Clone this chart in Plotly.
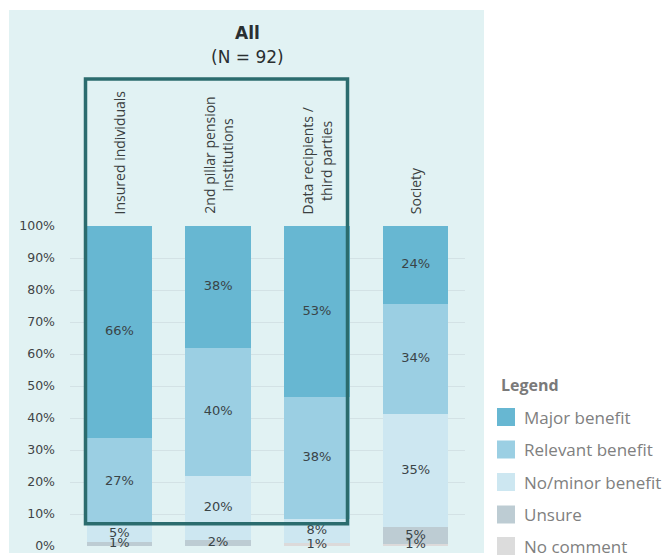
import plotly.graph_objects as go

# ---- data ----
categories = ["Insured individuals", "2nd pillar pension institutions",
              "Data recipients / third parties", "Society"]
category_labels = ["Insured individuals", "2nd pillar pension<br>institutions",
                   "Data recipients /<br>third parties", "Society"]
series_names = ["Major benefit", "Relevant benefit", "No/minor benefit", "Unsure", "No comment"]
major_benefit = [66.3, 38.0, 53.4, 24.4]
relevant_benefit = [27.2, 40.0, 38.1, 34.4]
no_minor_benefit = [5.4, 20.0, 7.7, 35.4]
unsure = [1.1, 2.0, 0.0, 5.2]
no_comment = [0.0, 0.0, 0.8, 0.6]
y_ticks = [0, 10, 20, 30, 40, 50, 60, 70, 80, 90, 100]
y_tick_labels = [f"{v}%" for v in y_ticks]
title_main = "All"
title_sub = "(N = 92)"

colors = {
    "Major benefit": "#67b7d2",
    "Relevant benefit": "#9bcfe3",
    "No/minor benefit": "#cde7f1",
    "Unsure": "#bdccd3",
    "No comment": "#dcdada",
}
legend_colors = {
    "Major benefit": "#67b7d2",
    "Relevant benefit": "#9bcfe3",
    "No/minor benefit": "#cde7f1",
    "Unsure": "#bdccd3",
    "No comment": "#dcdcdc",
}
values = {
    "Major benefit": major_benefit,
    "Relevant benefit": relevant_benefit,
    "No/minor benefit": no_minor_benefit,
    "Unsure": unsure,
    "No comment": no_comment,
}

WORD_FONT = "'Open Sans', sans-serif"
NUM_FONT = "'DejaVu Sans', sans-serif"
TXT = "#3a4447"

# pixel geometry helpers (plot area: x 70..465, y 226..546)
L, R, T, B = 70, 465, 226, 546
W, H = 669, 560
def px(x):
    return (x - L) / (R - L)
def py(y):
    return (B - y) / (B - T)

fig = go.Figure()
stack_order = ["No comment", "Unsure", "No/minor benefit", "Relevant benefit", "Major benefit"]
base = [0.0] * len(categories)
label_x, label_y, label_t = [], [], []
for name in stack_order:
    vals = values[name]
    fig.add_trace(go.Bar(
        name=name,
        x=categories,
        y=vals,
        marker=dict(color=colors[name], line=dict(width=0)),
        showlegend=False,
        hoverinfo="skip",
    ))
    for i, v in enumerate(vals):
        if v > 0:
            label_x.append(categories[i])
            label_y.append(base[i] + v / 2)
            label_t.append(f"{v:.0f}%")
        base[i] += v

# value labels drawn on top of every segment
fig.add_trace(go.Scatter(
    x=label_x, y=label_y, text=label_t, mode="text",
    textposition="middle center", cliponaxis=False,
    textfont=dict(family=NUM_FONT, size=13, color=TXT),
    showlegend=False, hoverinfo="skip",
))

shapes = []
annotations = []

# background panel
shapes.append(dict(type="rect", xref="paper", yref="paper",
                   x0=px(9), x1=px(484), y0=py(553), y1=py(10),
                   fillcolor="#e1f2f3", line=dict(width=0), layer="below"))
# highlight box
shapes.append(dict(type="rect", xref="paper", yref="paper",
                   x0=px(85.5), x1=px(347.5), y0=py(523.7), y1=py(79),
                   fillcolor="rgba(0,0,0,0)", line=dict(color="#2b6c6e", width=3.5),
                   layer="above"))

# titles
annotations.append(dict(text=f"<b>{title_main}</b>", xref="paper", yref="paper",
                        x=px(247), y=py(33), xanchor="center", yanchor="middle",
                        showarrow=False,
                        font=dict(family=NUM_FONT, size=17, color="#2a2f31")))
annotations.append(dict(text=title_sub, xref="paper", yref="paper",
                        x=px(247), y=py(57), xanchor="center", yanchor="middle",
                        showarrow=False,
                        font=dict(family=NUM_FONT, size=17, color="#2a2f31")))

# category labels (rotated)
for cat, lab in zip(categories, category_labels):
    annotations.append(dict(text=lab, xref="x", yref="paper", x=cat, y=py(216),
                            xanchor="center", yanchor="bottom", textangle=-90,
                            showarrow=False, align="center",
                            font=dict(family=WORD_FONT, size=14, color="#3a3f41")))

# legend (manual)
annotations.append(dict(text="<b>Legend</b>", xref="paper", yref="paper",
                        x=px(499), y=py(385), xanchor="left", yanchor="middle",
                        showarrow=False, font=dict(family=WORD_FONT, size=16, color="#7a7a7a")))
leg_y = [417, 449.5, 482, 514.5, 546]
for name, yc in zip(series_names, leg_y):
    shapes.append(dict(type="rect", xref="paper", yref="paper",
                       x0=px(497), x1=px(515), y0=py(yc + 9), y1=py(yc - 9),
                       fillcolor=legend_colors[name], line=dict(width=0)))
    annotations.append(dict(text=name, xref="paper", yref="paper",
                            x=px(522), y=py(yc), xanchor="left", yanchor="middle",
                            showarrow=False, font=dict(family=WORD_FONT, size=17, color="#808080")))

fig.update_layout(
    width=W, height=H,
    margin=dict(l=L, r=W - R, t=T, b=H - B, pad=0, autoexpand=False),
    barmode="stack",
    bargap=0.335,
    paper_bgcolor="white",
    plot_bgcolor="rgba(0,0,0,0)",
    font=dict(family=WORD_FONT, size=12, color=TXT),
    shapes=shapes,
    annotations=annotations,
    showlegend=False,
    xaxis=dict(showticklabels=False, showgrid=False, zeroline=False, showline=False,
               ticks="", automargin=False),
    yaxis=dict(range=[0, 100], tickmode="array", tickvals=y_ticks, ticktext=y_tick_labels,
               showgrid=True, gridcolor="#d3e2e5", gridwidth=1,
               zeroline=False, showline=False, ticks="", automargin=False,
               ticklabelstandoff=14,
               tickfont=dict(family=NUM_FONT, size=12.5, color="#3f4446")),
)

fig.write_html("out.html")
